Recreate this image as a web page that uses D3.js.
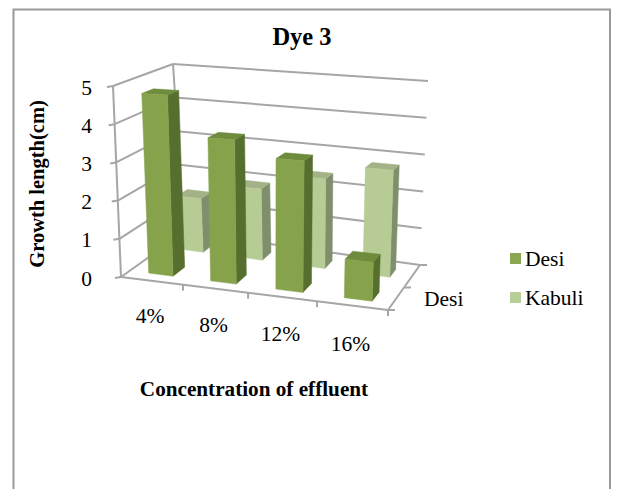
<!DOCTYPE html>
<html><head><meta charset="utf-8">
<script src="https://cdn.jsdelivr.net/npm/d3@7"></script>
<style>html,body{margin:0;padding:0;background:#fff}svg{display:block}text{font-family:"Liberation Serif",serif;fill:#000}</style>
</head><body><svg id="c" width="619" height="489"></svg>
<script>
const categories = ["4%","8%","12%","16%"];
const seriesNames = ["Desi","Kabuli"];
const desi = [4.75,3.7,3.3,0.95];
const kabuli = [1.5,1.95,2.4,2.8];
const valueTicks = [0,1,2,3,4,5];
const depthLabel = "Desi";
const title = "Dye 3";
const yTitle = "Growth length(cm)";
const xTitle = "Concentration of effluent";
const colors = {
  Desi:{front:"#86a34c",side:"#566f2e",top:"#6f8b3c",legend:"#8ba650"},
  Kabuli:{front:"#b6cc94",side:"#7f8f6c",top:"#a3b287",legend:"#b7cf96"}
};

const svg = d3.select("#c");
// Outer frame
svg.append("path").attr("d","M13.5,489V9.5H610V489").attr("fill","none").attr("stroke","#999").attr("stroke-width",2);

// Perspective box: u along categories, v into depth, h up
const corners = {
  fb:[[121,277],[388,310]], bb:[[184,232],[420,265]],
  ft:[[113,86],[395,101]],  bt:[[173,64],[428,81]]
};
const uScale = d3.scaleLinear().domain([0,1,2,3,4]).range([0,.232,.476,.734,1]);
const hScale = d3.scaleLinear().domain([0,5]).range([0,1]);
const mix = (a,b,t)=>[a[0]+(b[0]-a[0])*t,a[1]+(b[1]-a[1])*t];
function project(c,v,val){
  const u=uScale(c),h=hScale(val);
  const fb=mix(corners.fb[0],corners.fb[1],u),bb=mix(corners.bb[0],corners.bb[1],u);
  const ft=mix(corners.ft[0],corners.ft[1],u),bt=mix(corners.bt[0],corners.bt[1],u);
  return mix(mix(fb,bb,v),mix(ft,bt,v),h);
}
const gridColor="#a6a6a6";
const line=(a,b,w=2)=>svg.append("line").attr("x1",a[0]).attr("y1",a[1]).attr("x2",b[0]).attr("y2",b[1]).attr("stroke",gridColor).attr("stroke-width",w);

valueTicks.forEach(t=>{
  line(project(0,1,t),project(4,1,t));
  line(project(0,0,t),project(0,1,t));
  const p=project(0,0,t); line([p[0]-6,p[1]+1],p);
});
line(project(0,0,0),project(0,0,5));
line(project(0,0,0),project(4,0,0));
line(project(4,0,0),project(4,1,0));
line(project(0,1,5),project(0,1,0));
d3.range(1,5).forEach(c=>{const p=project(c,0,0);line(p,[p[0],p[1]+6]);});
[0,.5,1].forEach(v=>{const p=project(4,v,0);line(p,[p[0]+7,p[1]]);});

// Bars
function bar(c,v0,v1,val,col,u0off,u1off){
  const u0=c+u0off,u1=c+u1off;
  const P=(u,v,h)=>project(u,v,h).join(",");
  const poly=(pts,fill)=>svg.append("polygon").attr("points",pts.join(" ")).attr("fill",fill).attr("stroke",fill).attr("stroke-width",.5);
  poly([P(u1,v0,0),P(u1,v1,0),P(u1,v1,val),P(u1,v0,val)],col.side);
  poly([P(u0,v0,val),P(u1,v0,val),P(u1,v1,val),P(u0,v1,val)],col.top);
  poly([P(u0,v0,0),P(u1,v0,0),P(u1,v0,val),P(u0,v0,val)],col.front);
}
kabuli.forEach((d,i)=>bar(i,.67,.84,d,colors.Kabuli,.29,.70));
desi.forEach((d,i)=>bar(i,.14,.34,d,colors.Desi,.31,.71));

// Text
const txt=(s,x,y,size,opts={})=>svg.append("text").attr("x",x).attr("y",y).attr("font-size",size)
  .attr("text-anchor",opts.anchor||"start").attr("font-weight",opts.bold?"bold":"normal")
  .attr("transform",opts.rot?`rotate(${opts.rot} ${x} ${y})`:null).text(s);
txt(title,302,45,24.5,{anchor:"middle",bold:true});
txt(yTitle,44,184,20.5,{anchor:"middle",bold:true,rot:-90});
txt(xTitle,254,396,21.2,{anchor:"middle",bold:true});
valueTicks.forEach(t=>{const p=project(0,0,t);txt(t,92,p[1]+8.5,21.5,{anchor:"end"});});
categories.forEach((c,i)=>{const p=project(i+.5,0,0);txt(c,p[0]-2,p[1]+42+i,21.5,{anchor:"middle"});});
txt(depthLabel,424,306,21.5);
seriesNames.forEach((n,i)=>{
  const y=253+i*39;
  svg.append("rect").attr("x",510).attr("y",y).attr("width",11).attr("height",11).attr("fill",colors[n].legend);
  txt(n,525,y+13,21.5);
});
</script></body></html>
